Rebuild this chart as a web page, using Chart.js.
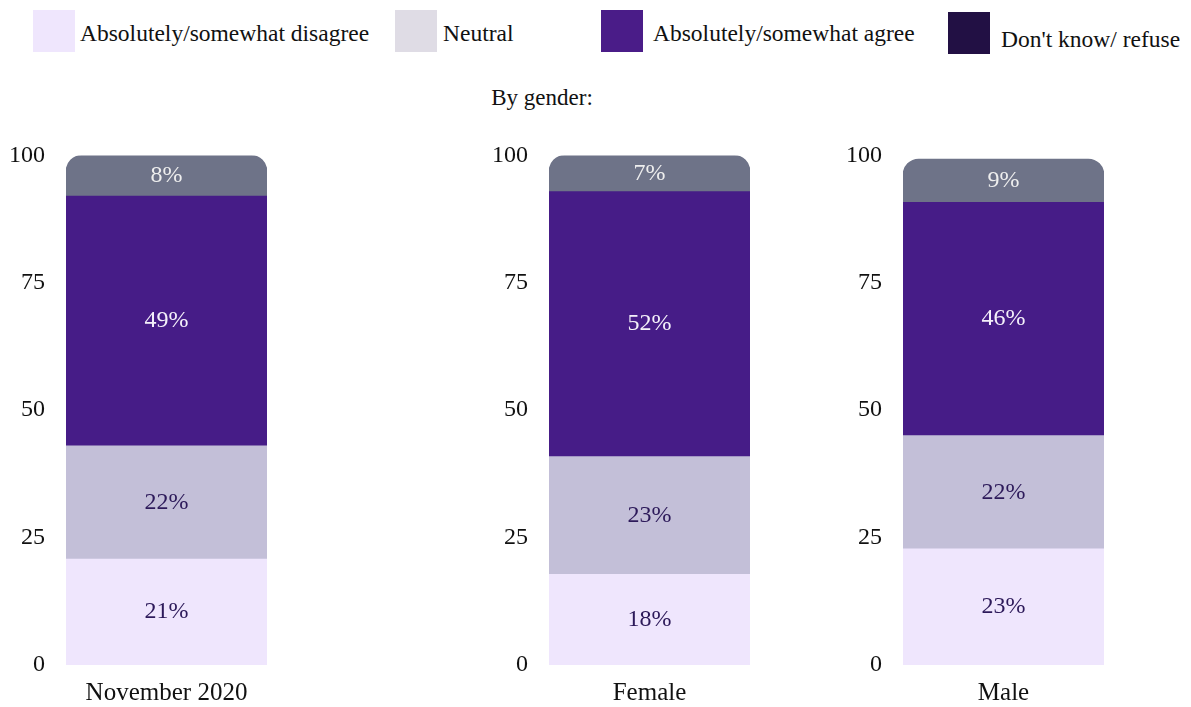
<!DOCTYPE html>
<html>
<head>
<meta charset="utf-8">
<script src="https://cdn.jsdelivr.net/npm/chart.js@4.4.0/dist/chart.umd.min.js"></script>
<style>
  body { margin: 0; background: #fff; font-family: "Liberation Serif", "Times New Roman", serif; }
  #page { position: relative; width: 1191px; height: 707px; overflow: hidden; }
  .box { position: absolute; top: 10px; width: 42px; height: 42px; }
  .txt { position: absolute; font-size: 23.5px; color: #111; white-space: nowrap; line-height: 1; }
  #subtitle { position: absolute; left: 442px; width: 200px; top: 85px; text-align: center; font-size: 23px; color: #111; }
  .panel { position: absolute; top: 120px; width: 272px; height: 587px; }
</style>
</head>
<body>
<div id="page">
  <div id="legend"></div>
  <div id="subtitle">By gender:</div>
  <div class="panel" style="left:0px"><canvas id="c0"></canvas></div>
  <div class="panel" style="left:483px"><canvas id="c1"></canvas></div>
  <div class="panel" style="left:837px"><canvas id="c2"></canvas></div>
</div>
<script>
// categories and series
const groups = ['November 2020', 'Female', 'Male'];
const seriesNames = ['Absolutely/somewhat disagree', 'Neutral', 'Absolutely/somewhat agree', "Don't know/ refuse"];
const disagree = [20.8, 17.8, 22.8];
const neutral  = [22.2, 23.1, 22.2];
const agree    = [49.0, 52.0, 45.8];
const dontKnow = [8.0, 7.1, 8.5];
const yTicks = [0, 25, 50, 75, 100];

const barColors    = ['#efe6fd', '#c3bfd8', '#461c87', '#6e7388'];
const legendColors = ['#efe6fd', '#dfdce5', '#4a1c88', '#221044'];
const labelColors  = ['#2d1a5a', '#2d1a5a', '#f4f0fa', '#eeeeee'];
const FONT = '"Liberation Serif", "Times New Roman", serif';

// legend (html)
const legendBoxX = [33, 395, 601, 948];
const legendTxtX = [80, 443, 653, 1001];
const legendTxtY = [22, 22, 22, 28];
const legend = document.getElementById('legend');
seriesNames.forEach((name, i) => {
    const b = document.createElement('div');
    b.className = 'box';
    b.style.left = legendBoxX[i] + 'px';
    b.style.background = legendColors[i];
    if (i == 3) b.style.top = '12px';
    legend.appendChild(b);
    const t = document.createElement('div');
    t.className = 'txt';
    t.style.left = legendTxtX[i] + 'px';
    t.style.top = legendTxtY[i] + 'px';
    t.textContent = name;
    legend.appendChild(t);
});

// percent labels in the middle of each segment
const valueLabels = {
    id: 'valueLabels',
    afterDatasetsDraw(chart) {
        const ctx = chart.ctx;
        ctx.save();
        ctx.font = '24px ' + FONT;
        ctx.textAlign = 'center';
        ctx.textBaseline = 'middle';
        chart.data.datasets.forEach((ds, i) => {
            chart.getDatasetMeta(i).data.forEach((bar, j) => {
                const p = bar.getCenterPoint();
                ctx.fillStyle = labelColors[i];
                ctx.fillText(Math.round(ds.data[j]) + '%', p.x, p.y);
            });
        });
        ctx.restore();
    }
};

const allSeries = [disagree, neutral, agree, dontKnow];

groups.forEach((g, k) => {
    new Chart(document.getElementById('c' + k), {
        type: 'bar',
        data: {
            labels: [g],
            datasets: allSeries.map((s, i) => ({
                label: seriesNames[i],
                data: [s[k]],
                backgroundColor: barColors[i],
                borderWidth: 0,
                borderRadius: i == 3 ? { topLeft: 16, topRight: 16, bottomLeft: 0, bottomRight: 0 } : 0,
                borderSkipped: false,
                categoryPercentage: 1,
                barPercentage: 1
            }))
        },
        options: {
            responsive: true,
            maintainAspectRatio: false,
            animation: false,
            layout: { padding: { top: 30, right: 5, left: 0, bottom: 0 } },
            plugins: { legend: { display: false }, tooltip: { enabled: false } },
            scales: {
                x: {
                    stacked: true,
                    grid: { display: false, drawTicks: false },
                    border: { display: false },
                    ticks: { color: '#111', font: { family: FONT, size: 25 }, padding: 13 },
                    afterFit: (s) => { s.height = 42; }
                },
                y: {
                    stacked: true,
                    min: 0,
                    max: 100,
                    grid: { display: false, drawTicks: false },
                    border: { display: false },
                    afterBuildTicks: (s) => { s.ticks = yTicks.map(v => ({ value: v })); },
                    ticks: { color: '#111', font: { family: FONT, size: 24 }, padding: 21 },
                    afterFit: (s) => { s.width = 66; }
                }
            }
        },
        plugins: [valueLabels]
    });
});
</script>
</body>
</html>
